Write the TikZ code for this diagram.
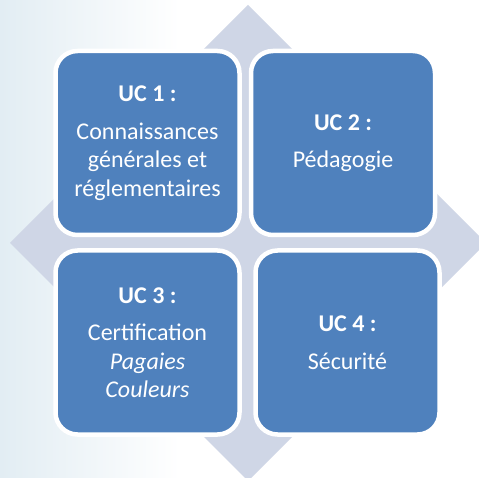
\documentclass[tikz,border=0pt]{standalone}
\usepackage{fontspec}
\setmainfont{Carlito}
\usepackage{tikz}
\usetikzlibrary{positioning, shadings}
\definecolor{ucblue}{HTML}{4F81BD}
\definecolor{diamondgray}{HTML}{CFD6E6}
\definecolor{cloudblue}{HTML}{E2EDF3}

\begin{document}
\begin{tikzpicture}[x=1pt, y=-1pt,% pixel grid, y downwards
ucbox/.style = {draw=white, line width=4.5pt, fill=ucblue,
                rounded corners=22pt,
                minimum width=184pt, minimum height=184pt,
                inner sep=0pt, outer sep=0pt,
                text=white, align=center,
                font=\fontsize{24}{28.5}\selectfont},
                    ]
    \useasboundingbox (0,0) rectangle (479,478);
    % background
    \fill[white] (0,0) rectangle (479,478);
    \shade[left color=cloudblue, right color=white] (0,0) rectangle (180,478);

    % diamond behind the boxes
    \coordinate (top)   at (248,5);
    \coordinate (right) at (486,243);
    \coordinate (bot)   at (248,481);
    \coordinate (left)  at (10,243);
    \fill[diamondgray] (top) -- (right) -- (bot) -- (left) -- cycle;

    % the four units
    \node[ucbox] (uc1) at (147.5,143)
        {\textbf{UC 1 :}\\[9pt] Connaissances\\ générales et\\ réglementaires};
    \node[ucbox] (uc2) at (343,143)
        {\textbf{UC 2 :}\\[9pt] Pédagogie};
    \node[ucbox] (uc3) at (147.5,342.5)
        {\textbf{UC 3 :}\\[9pt] Certification\\ \textit{Pagaies}\\ \textit{Couleurs}};
    \node[ucbox] (uc4) at (347.5,342.5)
        {\textbf{UC 4 :}\\[9pt] Sécurité};
\end{tikzpicture}
\end{document}
